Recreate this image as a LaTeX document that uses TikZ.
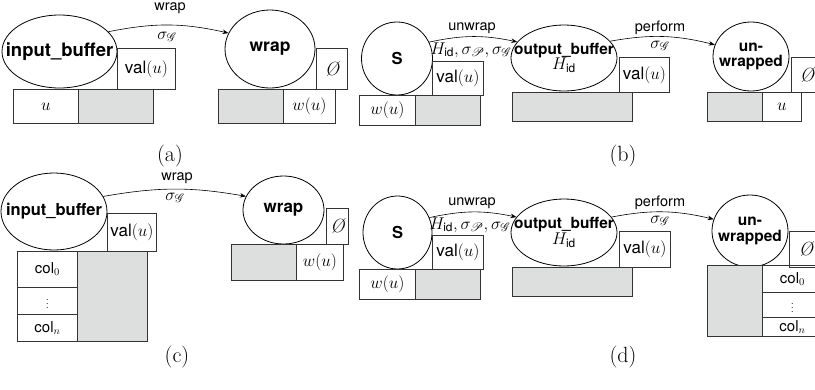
\RequirePackage{fix-cm}
\documentclass[tikz,border=0pt]{standalone}
\usepackage{fontspec}
\setsansfont{TeX Gyre Heros}
\usepackage{mathrsfs}
\usetikzlibrary{shapes.geometric,arrows.meta}
\definecolor{boxgray}{RGB}{221,222,222}
\newcommand{\myfs}[1]{\fontsize{#1}{#1}\selectfont}
\newcommand{\Hid}{H_{\mathsf{id}}}
\newcommand{\sG}{\sigma_{\mathscr{G}}}
\newcommand{\sP}{\sigma_{\mathscr{P}}}
\newcommand{\emptysym}{{\itshape\O}}
\begin{document}
\begin{tikzpicture}[x=1pt,y=-1pt,
  ell/.style={draw, ellipse, line width=0.8pt, inner sep=0pt},
  bx/.style={draw=black!80, line width=0.8pt, rectangle, anchor=north west, inner sep=0pt, font=\myfs{17}},
  gbx/.style={bx, fill=boxgray},
  colt/.style={font=\myfs{15}},
  dots/.style={font=\myfs{11}},
  arr/.style={-{Stealth[length=6pt,width=4.5pt]}, line width=0.6pt},
  lbl/.style={font=\sffamily\myfs{14.5}, inner sep=0pt},
  mlbl/.style={font=\myfs{17}, inner sep=0pt},
  captxt/.style={font=\myfs{22}, inner sep=0pt},
  bl/.style={font=\sffamily\bfseries\myfs{#1}, inner sep=0pt, align=center},
  emp/.style={font=\myfs{19}}
]
\useasboundingbox (0,0) rectangle (815,389);
\clip (0,0) rectangle (815,389);

% ---------------- (a)
\node[ell, minimum width=115pt, minimum height=73pt, label={[bl=18.5]center:input\_buffer}] (ib1) at (59.5,51.5) {};
\node[bx, minimum width=58pt, minimum height=41pt] (va1) at (117,48) {\textsf{val}($u$)};
\node[bx, minimum width=65pt, minimum height=34pt] (u1) at (13,89) {$u$};
\node[gbx, minimum width=75pt, minimum height=34pt] (g1) at (78,89) {};
\node[ell, minimum width=90pt, minimum height=78pt, label={[bl=17.5]center:wrap}] (wr1) at (270,49) {};
\node[bx, emp, minimum width=31pt, minimum height=41pt] (o1) at (316,48) {\emptysym};
\node[gbx, minimum width=65pt, minimum height=34pt] (g2) at (218,89) {};
\node[bx, minimum width=52pt, minimum height=34pt] (w1) at (283,89) {$w(u)$};
\draw[arr] (ib1.22) to[bend left=12] (wr1.159);
\node[lbl] (la1) at (170,8) {wrap};
\node[mlbl] (sa1) at (167,37) {$\sG$};
\node[captxt] (ca) at (170,156) {(a)};

% ---------------- (b)
\node[ell, minimum width=71pt, minimum height=73pt, label={[bl=16.5]center:S}] (s1) at (397,58.5) {};
\node[bx, minimum width=51pt, minimum height=34pt] (va2) at (432,61) {\textsf{val}($u$)};
\node[bx, minimum width=56pt, minimum height=30pt] (w2) at (359,95) {$w(u)$};
\node[gbx, minimum width=65pt, minimum height=30pt] (g3) at (415,95) {};
\node[ell, minimum width=106pt, minimum height=66pt,
  label={[bl=15.4]center:{\fontsize{15.4}{17}\selectfont output\_buffer\\ \mdseries\fontsize{17}{17}\selectfont$\Hid$}}] (ob1) at (564,58) {};
\node[bx, minimum width=50pt, minimum height=35pt] (va3) at (619,57) {\textsf{val}($u$)};
\node[gbx, minimum width=120pt, minimum height=29pt] (g4) at (512,92) {};
\node[ell, minimum width=76pt, minimum height=69pt,
  label={[bl=15.5]center:{\fontsize{15.5}{14}\selectfont un-\\wrapped}}] (uw1) at (751,56.5) {};
\node[bx, emp, minimum width=31pt, minimum height=35pt] (o2) at (791,57) {\emptysym};
\node[gbx, minimum width=55pt, minimum height=29pt] (g5) at (707,92) {};
\node[bx, minimum width=39pt, minimum height=29pt] (u2) at (762,92) {$u$};
\draw[arr] (s1.27) to[bend left=12] (ob1.161);
\node[lbl] (lb1) at (472,28) {unwrap};
\node[mlbl] (sb1) at (471,50) {$\Hid, \sP, \sG$};
\draw[arr] (ob1.20) to[bend left=12] (uw1.162);
\node[lbl] (lb2) at (660,28) {perform};
\node[mlbl] (sb2) at (660,46) {$\sG$};
\node[captxt] (cb) at (623,156) {(b)};

% ---------------- (c)
\node[ell, minimum width=106pt, minimum height=77pt, label={[bl=16.5]center:input\_buffer}] (ib2) at (54,211.5) {};
\node[bx, minimum width=49pt, minimum height=38pt] (va4) at (107,213) {\textsf{val}($u$)};
\node[bx, colt, minimum width=60pt, minimum height=36pt] (c0a) at (17,251) {\textsf{col}$_0$};
\node[bx, dots, minimum width=60pt, minimum height=27pt] (cda) at (17,287) {$\vdots$};
\node[bx, colt, minimum width=60pt, minimum height=27pt] (cna) at (17,314) {\textsf{col}$_n$};
\node[gbx, minimum width=70pt, minimum height=90pt] (g6) at (77,251) {};
\node[ell, minimum width=81pt, minimum height=68pt, label={[bl=17]center:wrap}] (wr2) at (283.5,210) {};
\node[bx, emp, minimum width=22pt, minimum height=36pt] (o3) at (326,208) {\emptysym};
\node[gbx, minimum width=65pt, minimum height=36pt] (g7) at (231,244) {};
\node[bx, minimum width=47pt, minimum height=36pt] (w3) at (296,244) {$w(u)$};
\draw[arr] (ib2.17) to[bend left=10] (wr2.160);
\node[lbl] (lc1) at (177,178) {wrap};
\node[mlbl] (sc1) at (175,198) {$\sG$};
\node[captxt] (cc) at (177,357) {(c)};

% ---------------- (d)
\node[ell, minimum width=69pt, minimum height=73pt, label={[bl=16.5]center:S}] (s2) at (397.5,232.5) {};
\node[bx, minimum width=51pt, minimum height=34pt] (va5) at (432,235) {\textsf{val}($u$)};
\node[bx, minimum width=56pt, minimum height=30pt] (w4) at (359,269) {$w(u)$};
\node[gbx, minimum width=65pt, minimum height=30pt] (g8) at (415,269) {};
\node[ell, minimum width=106pt, minimum height=67pt,
  label={[bl=15.4]center:{\fontsize{15.4}{17}\selectfont output\_buffer\\ \mdseries\fontsize{17}{17}\selectfont$\Hid$}}] (ob2) at (564,232.5) {};
\node[gbx, minimum width=120pt, minimum height=29pt] (g9) at (512,267) {};
\node[bx, minimum width=51pt, minimum height=36pt] (va6) at (619,231) {\textsf{val}($u$)};
\node[ell, minimum width=76pt, minimum height=72pt,
  label={[bl=15.5]center:{\fontsize{15.5}{14}\selectfont un-\\wrapped}}] (uw2) at (750,231) {};
\node[bx, emp, minimum width=33pt, minimum height=36pt] (o4) at (789,231) {\emptysym};
\node[gbx, minimum width=55pt, minimum height=71pt] (g10) at (707,265) {};
\node[bx, colt, minimum width=60pt, minimum height=27pt] (c0b) at (762,265) {\textsf{col}$_0$};
\node[bx, dots, minimum width=60pt, minimum height=25pt] (cdb) at (762,292) {$\vdots$};
\node[bx, colt, minimum width=60pt, minimum height=19pt] (cnb) at (762,317) {\textsf{col}$_n$};
\draw[arr] (s2.25) to[bend left=12] (ob2.162);
\node[lbl] (ld1) at (472,203) {unwrap};
\node[mlbl] (sd1) at (470,225) {$\Hid, \sP, \sG$};
\draw[arr] (ob2.18) to[bend left=12] (uw2.162);
\node[lbl] (ld2) at (660,203) {perform};
\node[mlbl] (sd2) at (660,221) {$\sG$};
\node[captxt] (cd) at (623,357) {(d)};
\end{tikzpicture}
\end{document}
